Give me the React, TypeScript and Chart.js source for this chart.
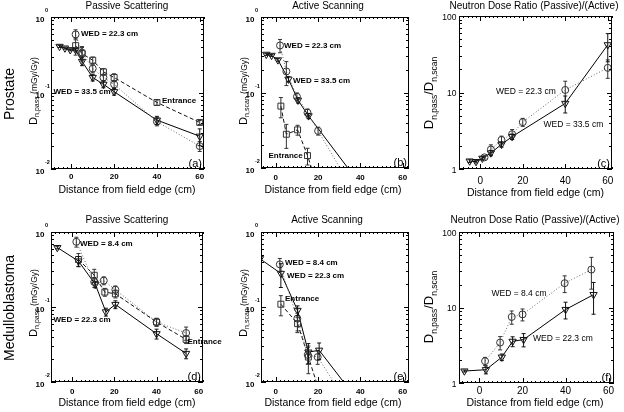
import { useEffect, useRef } from 'react'
import { Chart, registerables } from 'chart.js'

Chart.register(...registerables)

const FONT = '"Liberation Sans", Arial, Helvetica, sans-serif'

// (a) prostate, passive scattering
const aCircX = [2, 5, 10, 15, 20, 40, 60]
const aCircY = [0.59, 0.34, 0.21, 0.16, 0.13, 0.042, 0.02]
const aCircE = [0.15, 0.2, 0.12, 0.1, 0.1, 0.12, 0.15]
const aSqX = [2, 5, 10, 15, 20, 40, 60]
const aSqY = [0.42, 0.33, 0.27, 0.19, 0.16, 0.075, 0.041]
const aSqE = [0.25, 0.2, 0.1, 0.1, 0.12, 0.08, 0.06]
const aTriX = [-5.5, -3, -0.5, 2, 5, 10, 15, 20, 40, 60]
const aTriY = [0.41, 0.39, 0.37, 0.37, 0.26, 0.16, 0.13, 0.104, 0.044, 0.027]
const aTriE = [0.03, 0.03, 0.03, 0.03, 0.12, 0.1, 0.1, 0.1, 0.12, 0.25]

// (b) prostate, active scanning
const bCircX = [2, 5, 10, 15, 20]
const bCircY = [0.42, 0.19, 0.088, 0.054, 0.031]
const bCircE = [0.2, 0.35, 0.12, 0.12, 0.12]
const bCircTail: [number, number] = [33, 0.0075]
const bTriX = [-4.5, -2, 1, 6, 10.5, 15.5]
const bTriY = [0.32, 0.31, 0.27, 0.15, 0.079, 0.049]
const bTriE = [0.03, 0.03, 0.04, 0.08, 0.08, 0.08]
const bTriTail: [number, number] = [36, 0.0085]
const bSqX = [2.4, 5, 10.3, 15]
const bSqY = [0.066, 0.028, 0.032, 0.0146]
const bSqE = [0.3, 0.35, 0.15, 0.25]
const bSqTail: [number, number] = [18, 0.008]

// (c) prostate, ratio passive / active
const cTriX = [-5, -2, 1, 5, 10, 15, 40, 60]
const cTriY = [1.27, 1.25, 1.38, 1.62, 2.1, 2.65, 7.2, 42]
const cTriE = [0.04, 0.04, 0.05, 0.08, 0.08, 0.08, 0.25, 0.4]
const cCircX = [2, 5, 10, 15, 20, 40, 60]
const cCircY = [1.42, 1.8, 2.4, 2.85, 4.1, 10.8, 21]
const cCircE = [0.05, 0.15, 0.12, 0.15, 0.12, 0.3, 0.27]

// (d) medulloblastoma, passive scattering
const dTriX = [-7, 3, 11, 16, 20.5, 40, 54]
const dTriY = [0.62, 0.41, 0.2, 0.086, 0.108, 0.044, 0.024]
const dTriE = [0.04, 0.15, 0.1, 0.12, 0.12, 0.15, 0.15]
const dCircX = [2, 10.5, 15, 20.5, 40, 54]
const dCircY = [0.74, 0.215, 0.225, 0.17, 0.063, 0.045]
const dCircE = [0.15, 0.15, 0.12, 0.12, 0.12, 0.2]
const dSqX = [3, 10.5, 15.5, 20.5, 40, 54]
const dSqY = [0.43, 0.265, 0.158, 0.15, 0.063, 0.037]
const dSqE = [0.2, 0.2, 0.12, 0.12, 0.12, 0.12]

// (e) medulloblastoma, active scanning
const eTriX = [-7.5, 2.4, 10.3, 15.4, 20.5]
const eTriY = [0.44, 0.28, 0.09, 0.025, 0.0265]
const eTriE = [0.04, 0.35, 0.15, 0.3, 0.25]
const eTriTail: [number, number] = [34, 0.0085]
const eCircX = [1.9, 10.2, 15.1, 19.8]
const eCircY = [0.37, 0.07, 0.023, 0.0215]
const eCircE = [0.2, 0.35, 0.25, 0.2]
const eCircTail: [number, number] = [29, 0.0085]
const eSqX = [2.4, 10.3, 15.4]
const eSqY = [0.109, 0.06, 0.0215]
const eSqE = [0.3, 0.2, 0.4]
const eSqTail: [number, number] = [20, 0.0085]

// (f) medulloblastoma, ratio passive / active
const fTriX = [-7, 3, 10.4, 15.4, 20.5, 40, 53]
const fTriY = [1.44, 1.5, 2.2, 3.56, 3.76, 9.4, 14.8]
const fTriE = [0.03, 0.12, 0.1, 0.15, 0.2, 0.25, 0.45]
const fCircX = [2.6, 9.6, 15, 20, 39.6, 52]
const fCircY = [1.95, 3.43, 7.5, 8.1, 21, 31.8]
const fCircE = [0.12, 0.2, 0.2, 0.18, 0.25, 0.45]

const xTickValues = [0, 20, 40, 60]

type Kind = 'circ' | 'tri' | 'sq'
type Series = { kind: Kind; x: number[]; y: number[]; e: number[]; tail?: [number, number] }
type Note = [string, number, number]
type Panel = {
  area: [number, number, number, number]
  xMin: number
  xMax: number
  ratio: boolean
  series: Series[]
  title: string
  titleX: number
  titleY: number
  xTitleX: number
  xTitleY: number
  xTickY: number
  yLabel: 'pass' | 'scan' | 'ratio'
  yLabelX: number
  yLabelY: number
  letter: string
  notes: Note[]
  row?: [string, number]
}

const STYLE = {
  circ: { pointStyle: 'circle', r: 3.5, dash: [1, 2], line: '#6a6a6a', pt: '#333' },
  tri: { pointStyle: 'triangle', r: 4.2, dash: [], line: '#000', pt: '#111' },
  sq: { pointStyle: 'rect', r: 4.2, dash: [4, 2.5], line: '#111', pt: '#333' },
}

const PANELS: Panel[] = [
  {
    area: [51, 17, 204, 169], xMin: -9.5, xMax: 62, ratio: false,
    series: [
      { kind: 'circ', x: aCircX, y: aCircY, e: aCircE },
      { kind: 'sq', x: aSqX, y: aSqY, e: aSqE },
      { kind: 'tri', x: aTriX, y: aTriY, e: aTriE },
    ],
    title: 'Passive Scattering', titleX: 127, titleY: 6,
    xTitleX: 127, xTitleY: 190, xTickY: 177,
    yLabel: 'pass', yLabelX: 36.5, yLabelY: 91, letter: '(a)',
    notes: [['WED = 22.3 cm', 81, 34], ['WED = 33.5 cm', 53.5, 91.5], ['Entrance', 162, 101]],
    row: ['Prostate', 94],
  },
  {
    area: [261, 17, 409, 168], xMin: -7, xMax: 63, ratio: false,
    series: [
      { kind: 'circ', x: bCircX, y: bCircY, e: bCircE, tail: bCircTail },
      { kind: 'sq', x: bSqX, y: bSqY, e: bSqE, tail: bSqTail },
      { kind: 'tri', x: bTriX, y: bTriY, e: bTriE, tail: bTriTail },
    ],
    title: 'Active Scanning', titleX: 328, titleY: 6,
    xTitleX: 333, xTitleY: 190.5, xTickY: 177.5,
    yLabel: 'scan', yLabelX: 246.5, yLabelY: 91, letter: '(b)',
    notes: [['WED = 22.3 cm', 284, 45.5], ['WED = 33.5 cm', 293, 81], ['Entrance', 268.5, 156]],
  },
  {
    area: [459, 16, 612, 169], xMin: -10, xMax: 62, ratio: true,
    series: [
      { kind: 'circ', x: cCircX, y: cCircY, e: cCircE },
      { kind: 'tri', x: cTriX, y: cTriY, e: cTriE },
    ],
    title: 'Neutron Dose Ratio (Passive)/(Active)', titleX: 534, titleY: 6,
    xTitleX: 535.5, xTitleY: 193, xTickY: 181.5,
    yLabel: 'ratio', yLabelX: 433, yLabelY: 93, letter: '(c)',
    notes: [['WED = 22.3 cm', 496, 91.5], ['WED = 33.5 cm', 543.5, 125]],
  },
  {
    area: [51, 232, 203, 382], xMin: -10, xMax: 62, ratio: false,
    series: [
      { kind: 'circ', x: dCircX, y: dCircY, e: dCircE },
      { kind: 'sq', x: dSqX, y: dSqY, e: dSqE },
      { kind: 'tri', x: dTriX, y: dTriY, e: dTriE },
    ],
    title: 'Passive Scattering', titleX: 127, titleY: 220,
    xTitleX: 127, xTitleY: 403, xTickY: 391.5,
    yLabel: 'pass', yLabelX: 36.5, yLabelY: 303, letter: '(d)',
    notes: [['WED = 8.4 cm', 80, 244], ['WED = 22.3 cm', 53.5, 320], ['Entrance', 187.5, 341.5]],
    row: ['Medulloblastoma', 308],
  },
  {
    area: [261, 232, 409, 382], xMin: -7, xMax: 63, ratio: false,
    series: [
      { kind: 'circ', x: eCircX, y: eCircY, e: eCircE, tail: eCircTail },
      { kind: 'sq', x: eSqX, y: eSqY, e: eSqE, tail: eSqTail },
      { kind: 'tri', x: eTriX, y: eTriY, e: eTriE, tail: eTriTail },
    ],
    title: 'Active Scanning', titleX: 327, titleY: 220,
    xTitleX: 333, xTitleY: 403, xTickY: 391.5,
    yLabel: 'scan', yLabelX: 246.5, yLabelY: 303, letter: '(e)',
    notes: [['WED = 8.4 cm', 285, 262.5], ['WED = 22.3 cm', 287, 275.5], ['Entrance', 285, 299]],
  },
  {
    area: [459, 232, 614, 383], xMin: -9.5, xMax: 62.5, ratio: true,
    series: [
      { kind: 'circ', x: fCircX, y: fCircY, e: fCircE },
      { kind: 'tri', x: fTriX, y: fTriY, e: fTriE },
    ],
    title: 'Neutron Dose Ratio (Passive)/(Active)', titleX: 535, titleY: 220,
    xTitleX: 535, xTitleY: 403, xTickY: 391.5,
    yLabel: 'ratio', yLabelX: 433, yLabelY: 307, letter: '(f)',
    notes: [['WED = 8.4 cm', 491.5, 293.5], ['WED = 22.3 cm', 533, 338.5]],
  },
]

function toDataset (s: Series) {
  const st = STYLE[s.kind]
  const data = s.x.map((v, i) => ({ x: v, y: s.y[i] }))
  const radius = data.map(() => st.r)
  if (s.tail) {
    data.push({ x: s.tail[0], y: s.tail[1] })
    radius.push(0)
  }
  return {
    data,
    errs: s.e,
    showLine: true,
    borderColor: st.line,
    borderWidth: 1,
    borderDash: st.dash,
    pointStyle: st.pointStyle,
    pointRotation: s.kind === 'tri' ? 180 : 0,
    pointRadius: radius,
    pointBorderColor: st.pt,
    pointBackgroundColor: 'rgba(0,0,0,0)',
    pointBorderWidth: 1,
    tension: 0,
  }
}

// rotated axis label with subscripts
function vertical (ctx: CanvasRenderingContext2D, parts: [string, string, number][], bx: number, cy: number) {
  ctx.save()
  ctx.translate(bx, cy)
  ctx.rotate(-Math.PI / 2)
  let w = 0
  for (const [t, f] of parts) {
    ctx.font = f
    w += ctx.measureText(t).width
  }
  let x = -w / 2
  ctx.textAlign = 'left'
  ctx.textBaseline = 'alphabetic'
  for (const [t, f, dy] of parts) {
    ctx.font = f
    ctx.fillText(t, x, dy)
    x += ctx.measureText(t).width
  }
  ctx.restore()
}

function panelPlugin (p: Panel) {
  return {
    id: 'panelDeco',
    afterDatasetsDraw (chart: any) {
      const ctx: CanvasRenderingContext2D = chart.ctx
      const ys = chart.scales.y
      const a = chart.chartArea
      ctx.save()
      ctx.beginPath()
      ctx.rect(a.left, a.top, a.right - a.left, a.bottom - a.top)
      ctx.clip()
      ctx.lineWidth = 1
      chart.data.datasets.forEach((ds: any, i: number) => {
        const meta = chart.getDatasetMeta(i)
        ctx.strokeStyle = ds.pointBorderColor
        ds.errs.forEach((e: number, j: number) => {
          if (!e) return
          const pt = meta.data[j]
          const v = ds.data[j].y
          const hi = ys.getPixelForValue(v * (1 + e))
          const lo = ys.getPixelForValue(v * (1 - e))
          ctx.beginPath()
          ctx.moveTo(pt.x, hi)
          ctx.lineTo(pt.x, lo)
          ctx.moveTo(pt.x - 2, hi)
          ctx.lineTo(pt.x + 2, hi)
          ctx.moveTo(pt.x - 2, lo)
          ctx.lineTo(pt.x + 2, lo)
          ctx.stroke()
        })
      })
      ctx.restore()
    },
    afterDraw (chart: any) {
      const ctx: CanvasRenderingContext2D = chart.ctx
      const xs = chart.scales.x
      const ys = chart.scales.y
      const a = chart.chartArea
      ctx.save()
      ctx.strokeStyle = '#000'
      ctx.fillStyle = '#000'
      ctx.lineWidth = 1
      ctx.strokeRect(a.left + 0.5, a.top + 0.5, a.right - a.left - 1, a.bottom - a.top - 1)
      ctx.beginPath()
      for (let v = Math.ceil(p.xMin / 2) * 2; v <= p.xMax; v += 2) {
        const px = Math.round(xs.getPixelForValue(v)) + 0.5
        const len = v % 20 === 0 ? 5 : 2
        ctx.moveTo(px, a.bottom)
        ctx.lineTo(px, a.bottom - len)
        ctx.moveTo(px, a.top)
        ctx.lineTo(px, a.top + len)
      }
      const d0 = Math.round(Math.log10(ys.min))
      const d1 = Math.round(Math.log10(ys.max))
      for (let d = d0; d <= d1; d++) {
        for (let k = 1; k <= 9; k++) {
          const v = k * Math.pow(10, d)
          if (v < ys.min * 0.999 || v > ys.max * 1.001) continue
          const py = Math.round(ys.getPixelForValue(v)) + 0.5
          const len = k === 1 ? 5 : 3
          ctx.moveTo(a.left, py)
          ctx.lineTo(a.left + len, py)
          ctx.moveTo(a.right, py)
          ctx.lineTo(a.right - len, py)
        }
      }
      ctx.stroke()

      // tick labels
      ctx.textAlign = 'center'
      ctx.textBaseline = 'middle'
      ctx.font = p.ratio ? `10px ${FONT}` : `bold 8px ${FONT}`
      for (const v of xTickValues) ctx.fillText(String(v), xs.getPixelForValue(v), p.xTickY)
      for (let d = d0; d <= d1; d++) {
        const py = ys.getPixelForValue(Math.pow(10, d))
        if (p.ratio) {
          ctx.textAlign = 'right'
          ctx.font = `8.5px ${FONT}`
          ctx.fillText(String(Math.pow(10, d)), a.left - 2.5, py + 1.5)
        } else {
          ctx.textAlign = 'right'
          ctx.font = `bold 8px ${FONT}`
          ctx.fillText('10', a.left - 6.5, py + 2.5)
          ctx.textAlign = 'left'
          ctx.font = `bold 5.5px ${FONT}`
          ctx.fillText(String(d), a.left - 6, py - 6.5)
        }
      }

      // titles
      ctx.textAlign = 'center'
      ctx.font = `10px ${FONT}`
      ctx.fillText(p.title, p.titleX, p.titleY)
      ctx.font = `10.5px ${FONT}`
      ctx.fillText('Distance from field edge (cm)', p.xTitleX, p.xTitleY)

      if (p.yLabel === 'ratio') {
        vertical(ctx, [
          ['D', `13px ${FONT}`, 0], ['n,pass', `8.5px ${FONT}`, 3.5],
          ['/D', `13px ${FONT}`, 0], ['n,scan', `8.5px ${FONT}`, 3.5],
        ], p.yLabelX, p.yLabelY)
      } else {
        vertical(ctx, [
          ['D', `11px ${FONT}`, 0], [p.yLabel === 'pass' ? 'n,pass' : 'n,scan', `7px ${FONT}`, 2.5],
          [' (mGy/Gy)', `8.5px ${FONT}`, 0],
        ], p.yLabelX, p.yLabelY)
      }

      if (p.row) vertical(ctx, [[p.row[0], `14px ${FONT}`, 0]], 14, p.row[1])

      // annotations
      ctx.textAlign = 'left'
      ctx.textBaseline = 'middle'
      ctx.font = p.ratio ? `8.5px ${FONT}` : `bold 8px ${FONT}`
      for (const [t, x, y] of p.notes) ctx.fillText(t, x, y)

      ctx.textAlign = 'right'
      ctx.textBaseline = 'alphabetic'
      ctx.font = `11px ${FONT}`
      ctx.fillText(p.letter, a.right - 2, a.bottom - 2)
      ctx.restore()
    },
  }
}

function PanelChart ({ p }: { p: Panel }) {
  const canvasRef = useRef<HTMLCanvasElement>(null)
  const chartRef = useRef<Chart | null>(null)

  useEffect(() => {
    if (chartRef.current) chartRef.current.destroy()
    if (!canvasRef.current) return
    const [l, t, r, b] = p.area
    chartRef.current = new Chart(canvasRef.current, {
      type: 'scatter',
      data: { datasets: p.series.map(toDataset) as any },
      options: {
        responsive: false,
        animation: false,
        layout: { padding: { left: l, top: t, right: 624 - r, bottom: 412 - b } },
        plugins: { legend: { display: false }, tooltip: { enabled: false }, title: { display: false } },
        scales: {
          x: { type: 'linear', min: p.xMin, max: p.xMax, display: false },
          y: { type: 'logarithmic', min: p.ratio ? 1 : 0.01, max: p.ratio ? 100 : 1, display: false },
        },
      },
      plugins: [panelPlugin(p)],
    })
    return () => {
      if (chartRef.current) {
        chartRef.current.destroy()
        chartRef.current = null
      }
    }
  }, [p])

  return (
    <canvas
      ref={canvasRef}
      width={624}
      height={412}
      style={{ position: 'absolute', left: 0, top: 0, width: 624, height: 412 }}
    />
  )
}

export default function App () {
  return (
    <div style={{ position: 'fixed', left: 0, top: 0, width: 624, height: 412, background: '#fff' }}>
      {PANELS.map((p, i) => <PanelChart key={i} p={p} />)}
    </div>
  )
}
